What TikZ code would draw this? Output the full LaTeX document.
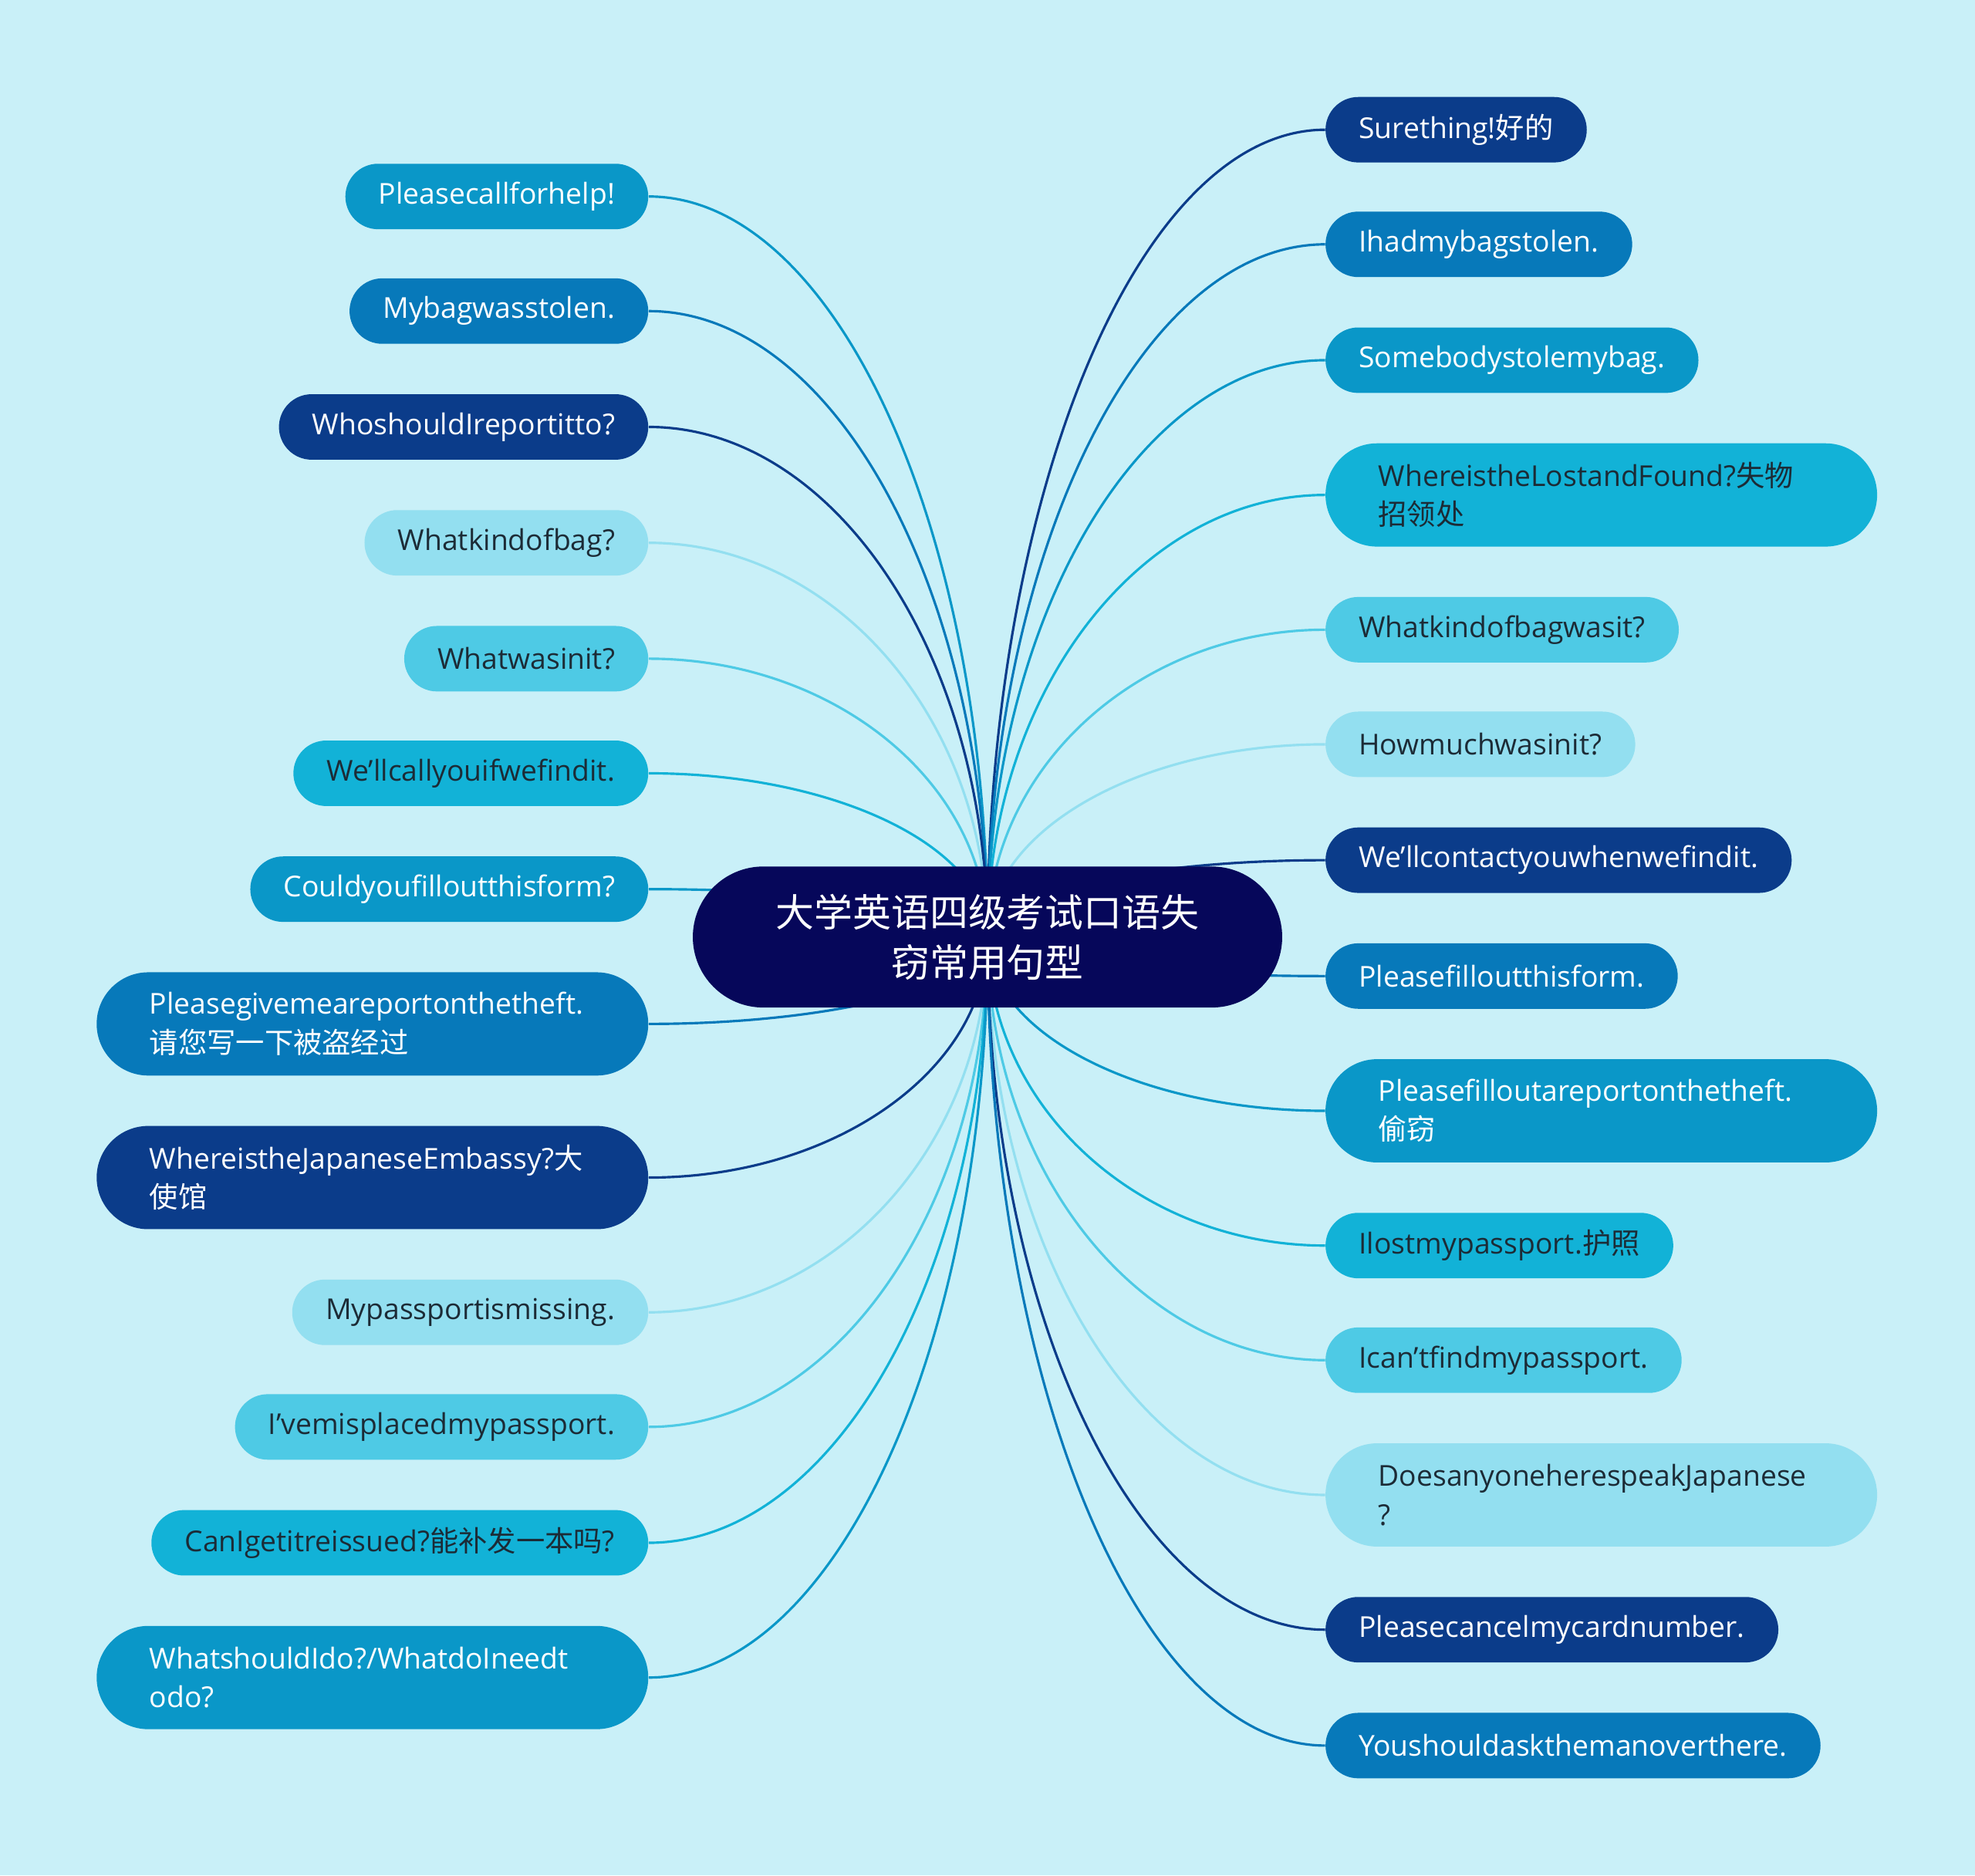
\documentclass[tikz,border=0pt]{standalone}
\usepackage{fontspec}
\setmainfont{Open Sans}
\newfontfamily\cjk{Noto Sans CJK SC}
\usetikzlibrary{calc}
\definecolor{mapBg}{HTML}{C9F0F8}
\definecolor{mapRoot}{HTML}{06075A}
\definecolor{mapNavy}{HTML}{0B3C8A}
\definecolor{mapBlue}{HTML}{0779BA}
\definecolor{mapTeal}{HTML}{0A97C8}
\definecolor{mapCyan}{HTML}{12B2D7}
\definecolor{mapSky}{HTML}{4ECAE5}
\definecolor{mapPale}{HTML}{93DFF0}
\definecolor{mapInk}{HTML}{1C2B36}
\pgfdeclarelayer{bg}
\pgfdeclarelayer{edges}
\pgfsetlayers{bg,edges,main}
\newcommand\leaffont{\fontsize{13}{17.6}\selectfont}
\newcommand\rootfont{\fontsize{17.4}{22.8}\selectfont\cjk}

\begin{document}
\begin{tikzpicture}[x=0.02cm, y=-0.02cm,
  leaf/.style={rounded corners=0.52cm, minimum height=1.04cm, inner xsep=0.53cm, inner ysep=0pt, font=\leaffont},
  twoline/.style={rounded corners=0.82cm, minimum height=1.64cm, inner xsep=0.84cm, text width=7.08cm, align=left},
  navyleaf/.style={leaf, fill=mapNavy, text=white},
  blueleaf/.style={leaf, fill=mapBlue, text=white},
  tealleaf/.style={leaf, fill=mapTeal, text=white},
  cyanleaf/.style={leaf, fill=mapCyan, text=mapInk},
  skyleaf/.style={leaf, fill=mapSky, text=mapInk},
  paleleaf/.style={leaf, fill=mapPale, text=mapInk},
  rootnode/.style={fill=mapRoot, text=white, rounded corners=1.12cm, minimum width=9.36cm, minimum height=2.24cm, align=center, font=\rootfont},
  branch/.style={line width=1.1pt, to path={.. controls ($(\tikztostart)!0.55!(\tikztostart -| \tikztotarget)$) and ($(\tikztotarget)!0.55!(\tikztostart -| \tikztotarget)$) .. (\tikztotarget)}}]
  \begin{pgfonlayer}{bg}
    \fill[mapBg] (0,0) rectangle (1568,1489);
  \end{pgfonlayer}

  \node[rootnode] (root) at (784,744) {大学英语四级考试口语失\\窃常用句型};

  % left side
  \node[tealleaf, anchor=east] (l1) at (515,156) {Pleasecallforhelp!};
  \node[blueleaf, anchor=east] (l2) at (515,247) {Mybagwasstolen.};
  \node[navyleaf, anchor=east] (l3) at (515,339) {WhoshouldIreportitto?};
  \node[paleleaf, anchor=east] (l4) at (515,431) {Whatkindofbag?};
  \node[skyleaf, anchor=east] (l5) at (515,523) {Whatwasinit?};
  \node[cyanleaf, anchor=east] (l6) at (515,614) {We'llcallyouifwefindit.};
  \node[tealleaf, anchor=east] (l7) at (515,706) {Couldyoufilloutthisform?};
  \node[blueleaf, twoline, anchor=east] (l8) at (515,813) {Pleasegivemeareportonthetheft.\\{\cjk 请您写一下被盗经过}};
  \node[navyleaf, twoline, anchor=east] (l9) at (515,935) {WhereistheJapaneseEmbassy?{\cjk 大}\\{\cjk 使馆}};
  \node[paleleaf, anchor=east] (l10) at (515,1042) {Mypassportismissing.};
  \node[skyleaf, anchor=east] (l11) at (515,1133) {I'vemisplacedmypassport.};
  \node[cyanleaf, anchor=east] (l12) at (515,1225) {CanIgetitreissued?{\cjk 能补发一本吗}?};
  \node[tealleaf, twoline, anchor=east] (l13) at (515,1332) {WhatshouldIdo?/WhatdoIneedt\\odo?};

  % right side
  \node[navyleaf, anchor=west] (r1) at (1052,103) {Surething!{\cjk 好的}};
  \node[blueleaf, anchor=west] (r2) at (1052,194) {Ihadmybagstolen.};
  \node[tealleaf, anchor=west] (r3) at (1052,286) {Somebodystolemybag.};
  \node[cyanleaf, twoline, anchor=west] (r4) at (1052,393) {WhereistheLostandFound?{\cjk 失物}\\{\cjk 招领处}};
  \node[skyleaf, anchor=west] (r5) at (1052,500) {Whatkindofbagwasit?};
  \node[paleleaf, anchor=west] (r6) at (1052,591) {Howmuchwasinit?};
  \node[navyleaf, anchor=west] (r7) at (1052,683) {We'llcontactyouwhenwefindit.};
  \node[blueleaf, anchor=west] (r8) at (1052,775) {Pleasefilloutthisform.};
  \node[tealleaf, twoline, anchor=west] (r9) at (1052,882) {Pleasefilloutareportonthetheft.\\{\cjk 偷窃}};
  \node[cyanleaf, anchor=west] (r10) at (1052,989) {Ilostmypassport.{\cjk 护照}};
  \node[skyleaf, anchor=west] (r11) at (1052,1080) {Ican'tfindmypassport.};
  \node[paleleaf, twoline, anchor=west] (r12) at (1052,1187) {DoesanyoneherespeakJapanese\\?};
  \node[navyleaf, anchor=west] (r13) at (1052,1294) {Pleasecancelmycardnumber.};
  \node[blueleaf, anchor=west] (r14) at (1052,1386) {Youshouldaskthemanoverthere.};

  \begin{pgfonlayer}{edges}
    \draw[branch, mapTeal] (l1.east) to (root.center);
    \draw[branch, mapBlue] (l2.east) to (root.center);
    \draw[branch, mapNavy] (l3.east) to (root.center);
    \draw[branch, mapPale] (l4.east) to (root.center);
    \draw[branch, mapSky] (l5.east) to (root.center);
    \draw[branch, mapCyan] (l6.east) to (root.center);
    \draw[branch, mapTeal] (l7.east) to (root.center);
    \draw[branch, mapBlue] (l8.east) to (root.center);
    \draw[branch, mapNavy] (l9.east) to (root.center);
    \draw[branch, mapPale] (l10.east) to (root.center);
    \draw[branch, mapSky] (l11.east) to (root.center);
    \draw[branch, mapCyan] (l12.east) to (root.center);
    \draw[branch, mapTeal] (l13.east) to (root.center);
    \draw[branch, mapNavy] (r1.west) to (root.center);
    \draw[branch, mapBlue] (r2.west) to (root.center);
    \draw[branch, mapTeal] (r3.west) to (root.center);
    \draw[branch, mapCyan] (r4.west) to (root.center);
    \draw[branch, mapSky] (r5.west) to (root.center);
    \draw[branch, mapPale] (r6.west) to (root.center);
    \draw[branch, mapNavy] (r7.west) to (root.center);
    \draw[branch, mapBlue] (r8.west) to (root.center);
    \draw[branch, mapTeal] (r9.west) to (root.center);
    \draw[branch, mapCyan] (r10.west) to (root.center);
    \draw[branch, mapSky] (r11.west) to (root.center);
    \draw[branch, mapPale] (r12.west) to (root.center);
    \draw[branch, mapNavy] (r13.west) to (root.center);
    \draw[branch, mapBlue] (r14.west) to (root.center);
  \end{pgfonlayer}
\end{tikzpicture}
\end{document}
